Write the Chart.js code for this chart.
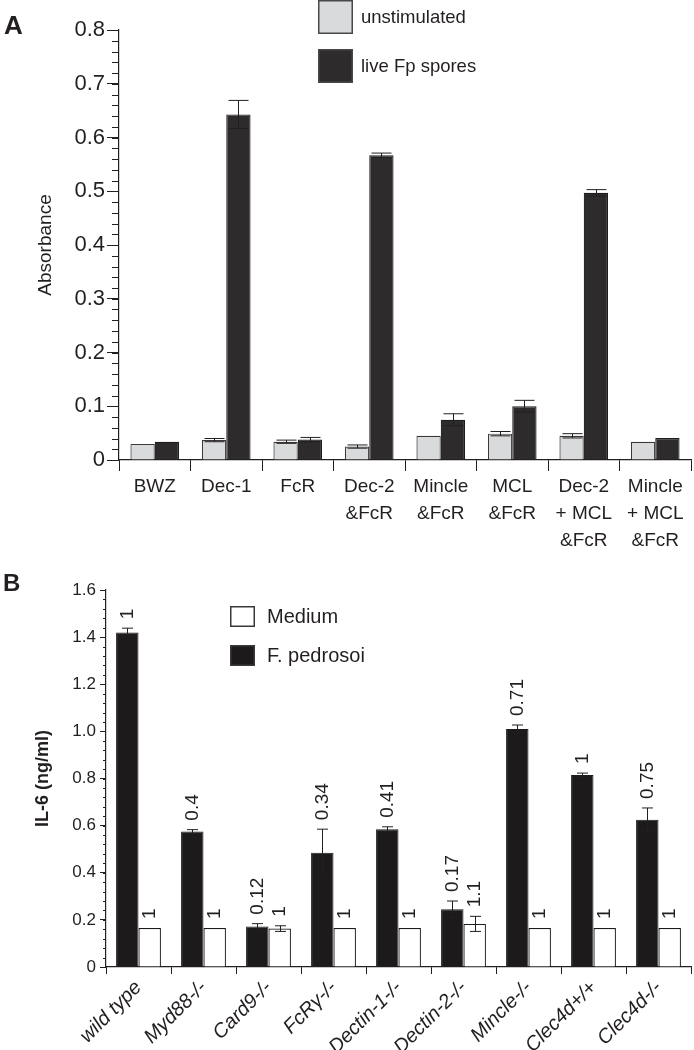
<!DOCTYPE html>
<html><head><meta charset="utf-8">
<script src="https://cdn.jsdelivr.net/npm/chart.js@4.4.0/dist/chart.umd.min.js"></script>
<style>
html,body{margin:0;padding:0;background:#fff;width:694px;height:1050px;overflow:hidden;}
canvas{position:absolute;left:0;}
#ca{top:0}
#cb{top:560px}
</style></head><body>
<canvas id="ca" width="694" height="560"></canvas>
<canvas id="cb" width="694" height="490"></canvas>
<script>
// ---------- Panel A data ----------
const categoriesA = [['BWZ'],['Dec-1'],['FcR'],['Dec-2','&FcR'],['Mincle','&FcR'],['MCL','&FcR'],['Dec-2','+ MCL','&FcR'],['Mincle','+ MCL','&FcR']];
const unstimulated = [0.030, 0.037, 0.034, 0.025, 0.045, 0.049, 0.045, 0.034];
const unstimulatedErr = [0, 0.003, 0.003, 0.003, 0, 0.004, 0.004, 0];
const liveSpores = [0.034, 0.643, 0.038, 0.567, 0.075, 0.100, 0.497, 0.041];
const liveSporesErr = [0, 0.026, 0.004, 0.004, 0.011, 0.011, 0.006, 0];
const ticksA = [0, 0.1, 0.2, 0.3, 0.4, 0.5, 0.6, 0.7, 0.8];

// ---------- Panel B data ----------
const categoriesB = ['wild type','Myd88-/-','Card9-/-','FcR\u03B3-/-','Dectin-1-/-','Dectin-2-/-','Mincle-/-','Clec4d+/+','Clec4d-/-'];
const pedrosoi = [1.42, 0.575, 0.172, 0.485, 0.585, 0.245, 1.01, 0.815, 0.625];
const pedrosoiErr = [0.018, 0.008, 0.012, 0.1, 0.01, 0.035, 0.017, 0.008, 0.05];
const pedrosoiNotes = ['1','0.4','0.12','0.34','0.41','0.17','0.71','1','0.75'];
const medium = [0.165, 0.165, 0.163, 0.165, 0.165, 0.183, 0.165, 0.165, 0.165];
const mediumErr = [0, 0, 0.012, 0, 0, 0.032, 0, 0, 0];
const mediumNotes = ['1','1','1','1','1','1.1','1','1','1'];
const ticksB = [0, 0.2, 0.4, 0.6, 0.8, 1.0, 1.2, 1.4, 1.6];

Chart.defaults.font.family = '"Liberation Sans", Arial, sans-serif';
Chart.defaults.color = '#231f20';

const INK = '#231f20';

const errorBarsPlugin = {
  id: 'errorBars',
  afterDatasetsDraw(chart, args, opts) {
    const ctx = chart.ctx, ys = chart.scales.y;
    ctx.save();
    ctx.strokeStyle = opts.color || INK;
    ctx.lineWidth = opts.lineWidth || 1;
    chart.data.datasets.forEach((ds, i) => {
      const errs = opts.errors[i]; if (!errs) return;
      const meta = chart.getDatasetMeta(i);
      meta.data.forEach((bar, j) => {
        const e = errs[j]; if (!e) return;
        const v = ds.data[j];
        const yt = ys.getPixelForValue(v + e), yb = ys.getPixelForValue(v - e);
        const x = Math.round(bar.x) + 0.5, c = opts.cap / 2;
        ctx.beginPath();
        ctx.moveTo(x, yb); ctx.lineTo(x, yt);
        ctx.moveTo(x - c, yt); ctx.lineTo(x + c, yt);
        ctx.moveTo(x - c, yb); ctx.lineTo(x + c, yb);
        ctx.stroke();
      });
    });
    ctx.restore();
  }
};

const minorTicksPlugin = {
  id: 'minorTicks',
  afterDraw(chart, args, opts) {
    const ctx = chart.ctx, ys = chart.scales.y;
    const x0 = chart.chartArea.left;
    ctx.save();
    ctx.strokeStyle = INK; ctx.lineWidth = 1;
    const n = Math.round((ys.max - ys.min) / opts.step);
    for (let k = 0; k <= n; k++) {
      const v = ys.min + k * opts.step;
      const y = Math.round(ys.getPixelForValue(v)) + 0.5;
      ctx.beginPath(); ctx.moveTo(x0 - opts.length, y); ctx.lineTo(x0, y); ctx.stroke();
    }
    ctx.restore();
  }
};

const legendPlugin = {
  id: 'customLegend',
  afterDraw(chart, args, opts) {
    const ctx = chart.ctx;
    ctx.save();
    opts.items.forEach(it => {
      const ds = chart.data.datasets[it.index];
      ctx.fillStyle = ds.backgroundColor;
      ctx.fillRect(opts.x, it.y, opts.w, opts.h);
      ctx.strokeStyle = opts.border; ctx.lineWidth = 1.5;
      ctx.strokeRect(opts.x + 0.75, it.y + 0.75, opts.w - 1.5, opts.h - 1.5);
      ctx.fillStyle = INK;
      ctx.font = opts.font;
      ctx.textAlign = 'left'; ctx.textBaseline = 'middle';
      ctx.fillText(ds.label, opts.textX, it.y + opts.h / 2 + 1);
    });
    ctx.restore();
  }
};

const panelLabelPlugin = {
  id: 'panelLabel',
  afterDraw(chart, args, opts) {
    const ctx = chart.ctx;
    ctx.save();
    ctx.fillStyle = INK; ctx.font = opts.font;
    ctx.textAlign = 'left'; ctx.textBaseline = 'middle';
    ctx.fillText(opts.text, opts.x, opts.y);
    ctx.restore();
  }
};

const notesPlugin = {
  id: 'barNotes',
  afterDatasetsDraw(chart, args, opts) {
    const ctx = chart.ctx, ys = chart.scales.y;
    ctx.save();
    ctx.fillStyle = INK; ctx.font = opts.font;
    ctx.textAlign = 'left'; ctx.textBaseline = 'middle';
    chart.data.datasets.forEach((ds, i) => {
      const notes = opts.notes[i], errs = opts.errors[i];
      const meta = chart.getDatasetMeta(i);
      meta.data.forEach((bar, j) => {
        const y = ys.getPixelForValue(ds.data[j] + (errs[j] || 0)) - opts.gap;
        ctx.save();
        ctx.translate(bar.x, y);
        ctx.rotate(-Math.PI / 2);
        ctx.fillText(notes[j], 0, 0);
        ctx.restore();
      });
    });
    ctx.restore();
  }
};

// ---------- Chart A ----------
new Chart(document.getElementById('ca'), {
  type: 'bar',
  data: {
    labels: categoriesA,
    datasets: [
      { label: 'unstimulated', data: unstimulated, backgroundColor: '#d9dadb', borderColor: '#3a3839', borderWidth: 1.2 },
      { label: 'live Fp spores', data: liveSpores, backgroundColor: '#2e2b2c', borderColor: '#1e1c1d', borderWidth: 1.2 }
    ]
  },
  options: {
    responsive: false, devicePixelRatio: 1, animation: false,
    layout: { padding: { top: 30, left: 0, right: 3, bottom: 0 } },
    datasets: { bar: { categoryPercentage: 0.68, barPercentage: 1.0 } },
    scales: {
      x: {
        grid: { drawOnChartArea: false, offset: true, tickLength: 11, color: INK },
        border: { color: INK, width: 1.2 },
        ticks: { font: { size: 19, lineHeight: 1.42 }, color: INK, padding: 2, maxRotation: 0, minRotation: 0 },
        afterFit(s) { s.height = 100; }
      },
      y: {
        min: 0, max: 0.8,
        afterBuildTicks(s) { s.ticks = ticksA.map(v => ({ value: v })); },
        grid: { drawOnChartArea: false, tickLength: 12, color: INK },
        border: { color: INK, width: 1.2 },
        ticks: { font: { size: 22 }, color: INK, padding: 2, callback: v => v === 0 ? '0' : v.toFixed(1) },
        title: { display: true, text: 'Absorbance', font: { size: 19 }, color: INK, padding: { top: 34 } },
        afterFit(s) { s.width = 119; }
      }
    },
    plugins: {
      legend: { display: false }, tooltip: { enabled: false },
      errorBars: { errors: [unstimulatedErr, liveSporesErr], cap: 20 },
      minorTicks: { step: 0.02, length: 7 },
      customLegend: { x: 318, w: 35, h: 34, textX: 361, border: '#4a4849', font: '18.5px "Liberation Sans", Arial, sans-serif',
        items: [{ index: 0, y: 0 }, { index: 1, y: 49 }] },
      panelLabel: { text: 'A', x: 4, y: 27, font: 'bold 26px "Liberation Sans", Arial, sans-serif' }
    }
  },
  plugins: [errorBarsPlugin, minorTicksPlugin, legendPlugin, panelLabelPlugin]
});

// ---------- Chart B ----------
new Chart(document.getElementById('cb'), {
  type: 'bar',
  data: {
    labels: categoriesB,
    datasets: [
      { label: 'F. pedrosoi', data: pedrosoi, backgroundColor: '#1c1a1b', borderColor: '#1c1a1b', borderWidth: 1 },
      { label: 'Medium', data: medium, backgroundColor: '#ffffff', borderColor: '#1c1a1b', borderWidth: 1.2 }
    ]
  },
  options: {
    responsive: false, devicePixelRatio: 1, animation: false,
    layout: { padding: { top: 30, left: 0, right: 3, bottom: 0 } },
    datasets: { bar: { categoryPercentage: 0.69, barPercentage: 1.0 } },
    scales: {
      x: {
        grid: { drawOnChartArea: false, offset: true, tickLength: 7, color: INK },
        border: { color: INK, width: 1.2 },
        ticks: { font: { size: 20, style: 'italic' }, color: INK, padding: 2, maxRotation: 45, minRotation: 45 },
        afterFit(s) { s.height = 83; }
      },
      y: {
        min: 0, max: 1.6,
        afterBuildTicks(s) { s.ticks = ticksB.map(v => ({ value: v })); },
        grid: { drawOnChartArea: false, tickLength: 6, color: INK },
        border: { color: INK, width: 1.2 },
        ticks: { font: { size: 17 }, color: INK, padding: 4, callback: v => v === 0 ? '0' : v.toFixed(1) },
        title: { display: true, text: 'IL-6 (ng/ml)', font: { size: 18, weight: 'bold' }, color: INK, padding: { top: 32 } },
        afterFit(s) { s.width = 106; }
      }
    },
    plugins: {
      legend: { display: false }, tooltip: { enabled: false },
      errorBars: { errors: [pedrosoiErr, mediumErr], cap: 11 },
      minorTicks: { step: 0.04, length: 3 },
      barNotes: { notes: [pedrosoiNotes, mediumNotes], errors: [pedrosoiErr, mediumErr], gap: 9, font: '19px "Liberation Sans", Arial, sans-serif' },
      customLegend: { x: 230, w: 25, h: 21, textX: 267, border: '#3a3839', font: '20px "Liberation Sans", Arial, sans-serif',
        items: [{ index: 1, y: 46 }, { index: 0, y: 85 }] },
      panelLabel: { text: 'B', x: 3, y: 24, font: 'bold 24px "Liberation Sans", Arial, sans-serif' }
    }
  },
  plugins: [errorBarsPlugin, minorTicksPlugin, notesPlugin, legendPlugin, panelLabelPlugin]
});
</script>
</body></html>
